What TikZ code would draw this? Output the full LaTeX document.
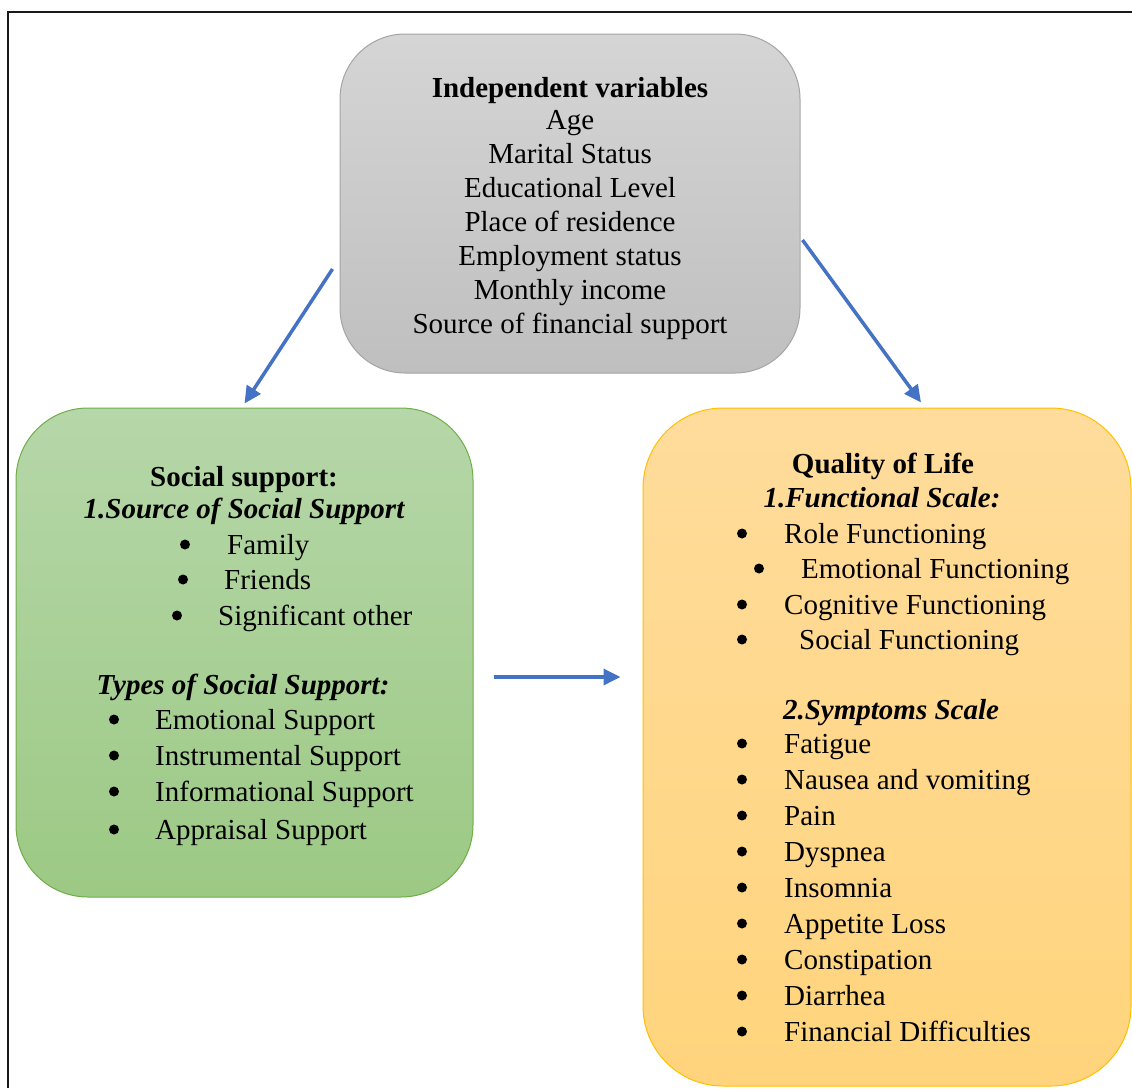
\documentclass[tikz,border=0pt]{standalone}
\usepackage{fontspec}
\setmainfont{Liberation Serif}
\usepackage{xcolor}
\usetikzlibrary{arrows.meta}
\usetikzlibrary{positioning}
\definecolor{IV-TOP}{HTML}{D5D5D5}
\definecolor{IV-BOT}{HTML}{BFBFBF}
\definecolor{IV-EDGE}{HTML}{A5A5A5}
\definecolor{SS-TOP}{HTML}{B6D7A9}
\definecolor{SS-BOT}{HTML}{9CC984}
\definecolor{SS-EDGE}{HTML}{70AD47}
\definecolor{QOL-TOP}{HTML}{FFDC9C}
\definecolor{QOL-BOT}{HTML}{FFD47C}
\definecolor{QOL-EDGE}{HTML}{FFC000}
\definecolor{ARROW-BLUE}{HTML}{4472C4}

\begin{document}
\begin{tikzpicture}[x=1pt,y=-1pt,
	box/.style={draw,rounded corners=#1,line width=1pt},
	txt/.style={anchor=base,inner sep=0pt,font=\fontsize{29}{34}\selectfont},
	head/.style={txt,font=\fontsize{29}{34}\selectfont\bfseries},
	subhead/.style={txt,font=\fontsize{29}{34}\selectfont\bfseries\itshape},
	item/.style={txt,anchor=base west},
	dot/.style={circle,fill=black,inner sep=0pt,minimum size=10pt},
	flow/.style={-{Triangle[length=17pt,width=16pt]},line width=3.5pt,draw=ARROW-BLUE}]
			\useasboundingbox (0,0) rectangle (1132,1088);

			% draw frame
			\draw[line width=1.3pt,black!90] (8,1088) -- (8,12) -- (1132,12);

			% draw boxes
			\node (indep) at (570,203.5) [box=65pt,minimum width=460pt,minimum height=339pt,
				draw=IV-EDGE,top color=IV-TOP,bottom color=IV-BOT] {};
			\node (social) at (244.5,652.5) [box=72pt,minimum width=457pt,minimum height=489pt,
				draw=SS-EDGE,top color=SS-TOP,bottom color=SS-BOT] {};
			\node (qol) at (887,747) [box=80pt,minimum width=488pt,minimum height=678pt,
				draw=QOL-EDGE,top color=QOL-TOP,bottom color=QOL-BOT] {};

			% independent variables
			\node[head] (indep-title) at (570,97) {Independent variables};
			\foreach \t [count=\i] in {Age,Marital Status,Educational Level,Place of residence,
				Employment status,Monthly income,Source of financial support}
				\node[txt] (indep-\i) at (570,{129+34*(\i-1)}) {\t};

			% social support
			\node[head] (social-title) at (244,486) {Social support:};
			\node[subhead] (social-src) at (244,518) {1.Source of Social Support};
			\foreach \bx/\tx/\y/\t [count=\i] in {185/227/554/Family,183/224/589/Friends,
				177/218/625/Significant other} {
				\node[dot] (src-bul-\i) at (\bx,{\y-9.5}) {};
				\node[item] (src-\i) at (\tx,\y) {\t};
			}
			\node[subhead] (social-types) at (243,694) {Types of Social Support:};
			\foreach \y/\t [count=\i] in {729/Emotional Support,765/Instrumental Support,
				801/Informational Support,839/Appraisal Support} {
				\node[dot] (type-bul-\i) at (114,{\y-9.5}) {};
				\node[item] (type-\i) at (155,\y) {\t};
			}

			% quality of life
			\node[head] (qol-title) at (883,473) {Quality of Life};
			\node[subhead] (qol-func) at (882,507) {1.Functional Scale:};
			\foreach \bx/\tx/\y/\t [count=\i] in {742/784/543/Role Functioning,
				759/801/578/Emotional Functioning,742/784/614/Cognitive Functioning,
				742/799/649/Social Functioning} {
				\node[dot] (func-bul-\i) at (\bx,{\y-9.5}) {};
				\node[item] (func-\i) at (\tx,\y) {\t};
			}
			\node[subhead] (qol-sym) at (891,719) {2.Symptoms Scale};
			\foreach \t [count=\i] in {Fatigue,Nausea and vomiting,Pain,Dyspnea,Insomnia,
				Appetite Loss,Constipation,Diarrhea,Financial Difficulties} {
				\node[dot] (sym-bul-\i) at (742,{753+36*(\i-1)-9.5}) {};
				\node[item] (sym-\i) at (784,{753+36*(\i-1)}) {\t};
			}

			% draw arrows
			\draw[flow] ([shift={(-7pt,-65.5pt)}]indep.west) to ([yshift=4pt]social.north);
			\draw[flow] ([shift={(2pt,-36.5pt)}]indep.east) to ([shift={(34pt,5pt)}]qol.north);
			\draw[flow] ([shift={(20pt,-24.5pt)}]social.east) to ([shift={(-22pt,70pt)}]qol.west);
		\end{tikzpicture}
\end{document}
